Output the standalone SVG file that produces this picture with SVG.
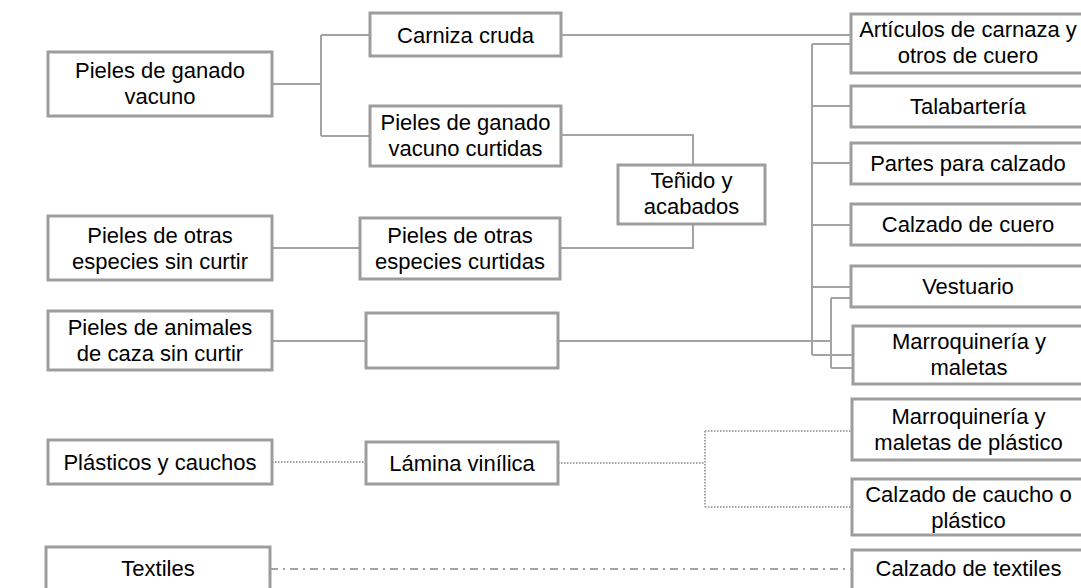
<svg xmlns="http://www.w3.org/2000/svg" width="1081" height="588" viewBox="0 0 1081 588">
<style>
.box{fill:#fff;stroke:#9d9d9d;stroke-width:3}
.t{font-family:"Liberation Sans",Arial,sans-serif;font-size:22px;fill:#000;text-anchor:middle}
.c{fill:none;stroke:#a3a3a3;stroke-width:2}
.dot{fill:none;stroke:#a3a3a3;stroke-width:2;stroke-dasharray:1.5 1.5}
.dd{fill:none;stroke:#a3a3a3;stroke-width:2;stroke-dasharray:8 5 2 5}
</style>
<rect width="1081" height="588" fill="#fff"/>
<g id="connectors">
<path class="c" d="M272,84 H321 M321,35 V136 M321,35 H370 M321,136 H370"/>
<path class="c" d="M561,35 H851"/>
<path class="c" d="M561,135 H693 V165"/>
<path class="c" d="M693,224 V248 H560"/>
<path class="c" d="M272,248 H360"/>
<path class="c" d="M272,341 H366"/>
<path class="c" d="M558,341 H832"/>
<path class="c" d="M812,44 V355 M812,44 H851 M812,106 H851 M812,163 H851 M812,225 H851 M812,287 H851 M812,355 H853"/>
<path class="c" d="M831,298 V368 M831,298 H851 M831,368 H853"/>
<path class="dot" d="M272,462 H366"/>
<path class="dot" d="M558,463 H705 M705,431 V507 M705,431 H852 M705,507 H852"/>
<path class="dd" d="M270,569 H852"/>
</g>
<g id="n1"><rect class="box" x="48" y="52" width="224" height="64"/><text class="t" x="160" y="78">Pieles de ganado</text><text class="t" x="160" y="104">vacuno</text></g>
<g id="n2"><rect class="box" x="48" y="216" width="224" height="64"/><text class="t" x="160" y="243">Pieles de otras</text><text class="t" x="160" y="269">especies sin curtir</text></g>
<g id="n3"><rect class="box" x="48" y="311" width="224" height="59"/><text class="t" x="160" y="335">Pieles de animales</text><text class="t" x="160" y="361">de caza sin curtir</text></g>
<g id="n4"><rect class="box" x="48" y="440" width="224" height="44"/><text class="t" x="160" y="470">Plásticos y cauchos</text></g>
<g id="n5"><rect class="box" x="46" y="547" width="224" height="50"/><text class="t" x="158" y="576">Textiles</text></g>
<g id="m1"><rect class="box" x="370" y="13" width="191" height="43"/><text class="t" x="465.5" y="43">Carniza cruda</text></g>
<g id="m2"><rect class="box" x="370" y="106" width="191" height="60"/><text class="t" x="465.5" y="130">Pieles de ganado</text><text class="t" x="465.5" y="156">vacuno curtidas</text></g>
<g id="m3"><rect class="box" x="360" y="218" width="200" height="61"/><text class="t" x="460" y="243">Pieles de otras</text><text class="t" x="460" y="269">especies curtidas</text></g>
<g id="m4"><rect class="box" x="366" y="313" width="192" height="55"/></g>
<g id="m5"><rect class="box" x="366" y="442" width="192" height="42"/><text class="t" x="462" y="471">Lámina vinílica</text></g>
<g id="t1"><rect class="box" x="618" y="165" width="147" height="59"/><text class="t" x="691.5" y="188">Teñido y</text><text class="t" x="691.5" y="214">acabados</text></g>
<g id="r1"><rect class="box" x="851" y="14" width="234" height="59"/><text class="t" x="968" y="37">Artículos de carnaza y</text><text class="t" x="968" y="63">otros de cuero</text></g>
<g id="r2"><rect class="box" x="851" y="86" width="234" height="41"/><text class="t" x="968" y="114">Talabartería</text></g>
<g id="r3"><rect class="box" x="851" y="143" width="234" height="41"/><text class="t" x="968" y="171">Partes para calzado</text></g>
<g id="r4"><rect class="box" x="851" y="204" width="234" height="41"/><text class="t" x="968" y="232">Calzado de cuero</text></g>
<g id="r5"><rect class="box" x="851" y="266" width="234" height="41"/><text class="t" x="968" y="294">Vestuario</text></g>
<g id="r6"><rect class="box" x="853" y="326" width="232" height="58"/><text class="t" x="969" y="349">Marroquinería y</text><text class="t" x="969" y="375">maletas</text></g>
<g id="r7"><rect class="box" x="852" y="399" width="233" height="61"/><text class="t" x="968.5" y="424">Marroquinería y</text><text class="t" x="968.5" y="450">maletas de plástico</text></g>
<g id="r8"><rect class="box" x="852" y="479" width="233" height="56"/><text class="t" x="968.5" y="502">Calzado de caucho o</text><text class="t" x="968.5" y="528">plástico</text></g>
<g id="r9"><rect class="box" x="852" y="550" width="233" height="50"/><text class="t" x="968.5" y="576">Calzado de textiles</text></g>
</svg>
